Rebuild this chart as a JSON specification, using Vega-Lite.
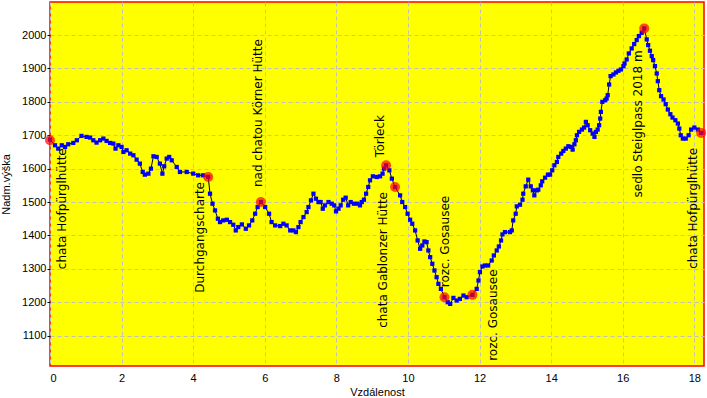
{
  "$schema": "https://vega.github.io/schema/vega-lite/v6.json",
  "width": 654,
  "height": 364,
  "autosize": "none",
  "padding": {"left": 50, "top": 2, "right": 3, "bottom": 32},
  "background": "#ffffff",
  "config": {
    "view": {"fill": "#ffff00", "stroke": "#ff0000", "strokeWidth": 1.5},
    "axis": {
      "labelFont": "Liberation Sans", "labelFontSize": 11, "labelColor": "#000000",
      "titleFont": "Liberation Sans", "titleFontSize": 11, "titleFontWeight": "normal", "titleColor": "#000000",
      "domain": false, "grid": true, "gridColor": "#c0c0c0", "gridDash": [4, 3], "gridWidth": 1,
      "tickColor": "#000000"
    }
  },
  "datasets": {
    "profile": [
      {"km":0.0,"elev":1687},{"km":0.14,"elev":1670},{"km":0.23,"elev":1660},{"km":0.33,"elev":1670},{"km":0.42,"elev":1665},
      {"km":0.51,"elev":1673},{"km":0.65,"elev":1677},{"km":0.75,"elev":1685},{"km":0.88,"elev":1698},{"km":1.02,"elev":1695},
      {"km":1.12,"elev":1693},{"km":1.21,"elev":1685},{"km":1.30,"elev":1678},{"km":1.40,"elev":1685},{"km":1.49,"elev":1690},
      {"km":1.58,"elev":1683},{"km":1.68,"elev":1677},{"km":1.77,"elev":1675},{"km":1.83,"elev":1660},{"km":1.91,"elev":1670},
      {"km":2.00,"elev":1665},{"km":2.05,"elev":1650},{"km":2.14,"elev":1655},{"km":2.24,"elev":1645},{"km":2.33,"elev":1640},
      {"km":2.42,"elev":1627},{"km":2.51,"elev":1615},{"km":2.59,"elev":1590},{"km":2.65,"elev":1582},{"km":2.75,"elev":1585},
      {"km":2.82,"elev":1600},{"km":2.89,"elev":1637},{"km":2.98,"elev":1635},{"km":3.07,"elev":1615},{"km":3.14,"elev":1585},
      {"km":3.19,"elev":1607},{"km":3.26,"elev":1630},{"km":3.33,"elev":1635},{"km":3.40,"elev":1625},{"km":3.54,"elev":1605},
      {"km":3.63,"elev":1590},{"km":3.82,"elev":1590},{"km":4.00,"elev":1585},{"km":4.14,"elev":1580},{"km":4.28,"elev":1580},
      {"km":4.42,"elev":1575},{"km":4.47,"elev":1525},{"km":4.54,"elev":1495},{"km":4.61,"elev":1475},{"km":4.69,"elev":1450},
      {"km":4.75,"elev":1440},{"km":4.84,"elev":1445},{"km":4.94,"elev":1447},{"km":5.03,"elev":1440},{"km":5.12,"elev":1432},
      {"km":5.19,"elev":1415},{"km":5.26,"elev":1425},{"km":5.36,"elev":1433},{"km":5.47,"elev":1420},{"km":5.56,"elev":1430},
      {"km":5.65,"elev":1445},{"km":5.73,"elev":1465},{"km":5.80,"elev":1485},{"km":5.89,"elev":1500},{"km":6.01,"elev":1485},
      {"km":6.12,"elev":1465},{"km":6.19,"elev":1440},{"km":6.29,"elev":1430},{"km":6.43,"elev":1428},{"km":6.52,"elev":1435},
      {"km":6.61,"elev":1430},{"km":6.71,"elev":1415},{"km":6.80,"elev":1415},{"km":6.87,"elev":1410},{"km":6.94,"elev":1425},
      {"km":7.00,"elev":1440},{"km":7.08,"elev":1455},{"km":7.17,"elev":1470},{"km":7.22,"elev":1485},{"km":7.29,"elev":1505},
      {"km":7.36,"elev":1525},{"km":7.43,"elev":1510},{"km":7.50,"elev":1500},{"km":7.56,"elev":1500},{"km":7.62,"elev":1480},
      {"km":7.68,"elev":1490},{"km":7.78,"elev":1500},{"km":7.87,"elev":1495},{"km":7.94,"elev":1490},{"km":7.99,"elev":1472},
      {"km":8.06,"elev":1480},{"km":8.12,"elev":1490},{"km":8.19,"elev":1507},{"km":8.26,"elev":1513},{"km":8.33,"elev":1490},
      {"km":8.40,"elev":1500},{"km":8.49,"elev":1495},{"km":8.59,"elev":1495},{"km":8.66,"elev":1490},{"km":8.71,"elev":1500},
      {"km":8.77,"elev":1507},{"km":8.83,"elev":1525},{"km":8.89,"elev":1545},{"km":8.94,"elev":1565},{"km":9.02,"elev":1577},
      {"km":9.13,"elev":1575},{"km":9.22,"elev":1577},{"km":9.29,"elev":1585},{"km":9.33,"elev":1600},{"km":9.39,"elev":1610},
      {"km":9.48,"elev":1595},{"km":9.55,"elev":1570},{"km":9.64,"elev":1545},{"km":9.78,"elev":1520},{"km":9.84,"elev":1500},
      {"km":9.92,"elev":1485},{"km":9.99,"elev":1465},{"km":10.06,"elev":1447},{"km":10.12,"elev":1435},{"km":10.20,"elev":1415},
      {"km":10.27,"elev":1385},{"km":10.34,"elev":1360},{"km":10.40,"elev":1370},{"km":10.46,"elev":1382},{"km":10.52,"elev":1380},
      {"km":10.57,"elev":1355},{"km":10.62,"elev":1335},{"km":10.68,"elev":1315},{"km":10.74,"elev":1295},{"km":10.80,"elev":1275},
      {"km":10.85,"elev":1255},{"km":10.92,"elev":1240},{"km":11.02,"elev":1215},{"km":11.11,"elev":1200},{"km":11.18,"elev":1195},
      {"km":11.27,"elev":1213},{"km":11.36,"elev":1205},{"km":11.45,"elev":1210},{"km":11.55,"elev":1220},{"km":11.64,"elev":1215},
      {"km":11.80,"elev":1222},{"km":11.92,"elev":1240},{"km":11.97,"elev":1265},{"km":12.01,"elev":1290},{"km":12.08,"elev":1307},
      {"km":12.15,"elev":1310},{"km":12.24,"elev":1310},{"km":12.34,"elev":1325},{"km":12.40,"elev":1340},{"km":12.48,"elev":1355},
      {"km":12.54,"elev":1367},{"km":12.60,"elev":1385},{"km":12.64,"elev":1403},{"km":12.71,"elev":1410},{"km":12.85,"elev":1410},
      {"km":12.90,"elev":1415},{"km":12.94,"elev":1445},{"km":13.01,"elev":1465},{"km":13.04,"elev":1487},{"km":13.13,"elev":1492},
      {"km":13.20,"elev":1507},{"km":13.22,"elev":1525},{"km":13.29,"elev":1547},{"km":13.36,"elev":1567},{"km":13.43,"elev":1547},
      {"km":13.49,"elev":1535},{"km":13.53,"elev":1520},{"km":13.60,"elev":1535},{"km":13.64,"elev":1537},{"km":13.71,"elev":1550},
      {"km":13.75,"elev":1562},{"km":13.83,"elev":1573},{"km":13.91,"elev":1582},{"km":13.97,"elev":1582},{"km":14.03,"elev":1595},
      {"km":14.09,"elev":1610},{"km":14.16,"elev":1620},{"km":14.20,"elev":1635},{"km":14.28,"elev":1645},{"km":14.34,"elev":1653},
      {"km":14.41,"elev":1660},{"km":14.48,"elev":1667},{"km":14.55,"elev":1665},{"km":14.60,"elev":1657},{"km":14.65,"elev":1673},
      {"km":14.69,"elev":1685},{"km":14.72,"elev":1700},{"km":14.78,"elev":1710},{"km":14.86,"elev":1717},{"km":14.92,"elev":1723},
      {"km":14.97,"elev":1740},{"km":15.02,"elev":1730},{"km":15.09,"elev":1715},{"km":15.16,"elev":1705},{"km":15.21,"elev":1695},
      {"km":15.25,"elev":1710},{"km":15.30,"elev":1717},{"km":15.34,"elev":1730},{"km":15.37,"elev":1750},{"km":15.39,"elev":1770},
      {"km":15.43,"elev":1800},{"km":15.51,"elev":1805},{"km":15.55,"elev":1810},{"km":15.58,"elev":1820},{"km":15.62,"elev":1852},
      {"km":15.66,"elev":1877},{"km":15.74,"elev":1882},{"km":15.81,"elev":1888},{"km":15.88,"elev":1893},{"km":15.95,"elev":1897},
      {"km":16.02,"elev":1907},{"km":16.05,"elev":1915},{"km":16.11,"elev":1927},{"km":16.17,"elev":1945},{"km":16.25,"elev":1960},
      {"km":16.32,"elev":1973},{"km":16.39,"elev":1985},{"km":16.45,"elev":1997},{"km":16.53,"elev":2007},{"km":16.60,"elev":2020},
      {"km":16.67,"elev":1987},{"km":16.71,"elev":1970},{"km":16.76,"elev":1953},{"km":16.81,"elev":1937},{"km":16.85,"elev":1925},
      {"km":16.90,"elev":1907},{"km":16.95,"elev":1885},{"km":16.98,"elev":1862},{"km":17.02,"elev":1835},{"km":17.07,"elev":1817},
      {"km":17.14,"elev":1807},{"km":17.20,"elev":1793},{"km":17.26,"elev":1777},{"km":17.33,"elev":1763},{"km":17.39,"elev":1753},
      {"km":17.47,"elev":1745},{"km":17.54,"elev":1735},{"km":17.58,"elev":1720},{"km":17.62,"elev":1700},{"km":17.68,"elev":1690},
      {"km":17.76,"elev":1690},{"km":17.84,"elev":1700},{"km":17.91,"elev":1717},{"km":18.00,"elev":1723},{"km":18.10,"elev":1717},
      {"km":18.19,"elev":1707}
    ],
    "waypoints": [
      {"id":1,"name":"chata Hofpürglhütte","km":0.0,"elev":1685},
      {"id":2,"name":"Durchgangscharte","km":4.42,"elev":1575},
      {"id":3,"name":"nad chatou Körner Hütte","km":5.89,"elev":1500},
      {"id":4,"name":"Törleck","km":9.39,"elev":1610},
      {"id":5,"name":"chata Gablonzer Hütte","km":9.64,"elev":1545},
      {"id":6,"name":"rozc. Gosausee","km":11.02,"elev":1215},
      {"id":7,"name":"rozc. Gosausee","km":11.80,"elev":1222},
      {"id":8,"name":"sedlo Steiglpass 2018 m","km":16.60,"elev":2020},
      {"id":9,"name":"chata Hofpürglhütte","km":18.19,"elev":1707}
    ]
  },
  "encoding": {
    "x": {"field": "km", "type": "quantitative",
      "scale": {"domain": [0, 18.27], "nice": false, "zero": false},
      "axis": {"values": [0,2,4,6,8,10,12,14,16,18], "ticks": false, "labelPadding": 6, "title": "Vzdálenost", "titlePadding": 3}},
    "y": {"field": "elev", "type": "quantitative",
      "scale": {"domain": [1009, 2099], "nice": false, "zero": false},
      "axis": {"values": [1100,1200,1300,1400,1500,1600,1700,1800,1900,2000], "format": "d", "tickSize": 3, "labelPadding": 1, "title": "Nadm.výška", "titlePadding": 10}}
  },
  "layer": [
    {"data": {"name": "profile"}, "mark": {"type": "line", "color": "#000000", "strokeWidth": 1}},
    {"data": {"name": "profile"}, "mark": {"type": "square", "color": "#0000ff", "size": 18, "opacity": 1, "filled": true}},
    {"data": {"name": "waypoints"}, "mark": {"type": "circle", "color": "#ff0000", "size": 100, "opacity": 0.7}},
    {"data": {"name": "waypoints"}, "transform": [{"filter": "datum.id == 1"}],
      "mark": {"type": "text", "angle": 270, "align": "right", "baseline": "bottom", "dx": -8, "dy": 19, "font": "DejaVu Sans", "fontSize": 12, "color": "#000000"},
      "encoding": {"text": {"field": "name"}}},
    {"data": {"name": "waypoints"}, "transform": [{"filter": "datum.id == 2"}],
      "mark": {"type": "text", "angle": 270, "align": "right", "baseline": "bottom", "dx": -5, "dy": -1, "font": "DejaVu Sans", "fontSize": 12, "color": "#000000"},
      "encoding": {"text": {"field": "name"}}},
    {"data": {"name": "waypoints"}, "transform": [{"filter": "datum.id == 3"}],
      "mark": {"type": "text", "angle": 270, "align": "left", "baseline": "bottom", "dx": 15, "dy": 4, "font": "DejaVu Sans", "fontSize": 12, "color": "#000000"},
      "encoding": {"text": {"field": "name"}}},
    {"data": {"name": "waypoints"}, "transform": [{"filter": "datum.id == 4"}],
      "mark": {"type": "text", "angle": 270, "align": "left", "baseline": "bottom", "dx": 8, "dy": 1, "font": "DejaVu Sans", "fontSize": 12, "color": "#000000"},
      "encoding": {"text": {"field": "name"}}},
    {"data": {"name": "waypoints"}, "transform": [{"filter": "datum.id == 5"}],
      "mark": {"type": "text", "angle": 270, "align": "right", "baseline": "bottom", "dx": -5, "dy": -5, "font": "DejaVu Sans", "fontSize": 12, "color": "#000000"},
      "encoding": {"text": {"field": "name"}}},
    {"data": {"name": "waypoints"}, "transform": [{"filter": "datum.id == 6"}],
      "mark": {"type": "text", "angle": 270, "align": "left", "baseline": "bottom", "dx": 10, "dy": 8, "font": "DejaVu Sans", "fontSize": 12, "color": "#000000"},
      "encoding": {"text": {"field": "name"}}},
    {"data": {"name": "waypoints"}, "transform": [{"filter": "datum.id == 7"}],
      "mark": {"type": "text", "angle": 270, "align": "left", "baseline": "bottom", "dx": -66, "dy": 28, "font": "DejaVu Sans", "fontSize": 12, "color": "#000000"},
      "encoding": {"text": {"field": "name"}}},
    {"data": {"name": "waypoints"}, "transform": [{"filter": "datum.id == 8"}],
      "mark": {"type": "text", "angle": 270, "align": "right", "baseline": "bottom", "dx": -22, "dy": 1, "font": "DejaVu Sans", "fontSize": 12, "color": "#000000"},
      "encoding": {"text": {"field": "name"}}},
    {"data": {"name": "waypoints"}, "transform": [{"filter": "datum.id == 9"}],
      "mark": {"type": "text", "angle": 270, "align": "right", "baseline": "bottom", "dx": -15, "dy": -1, "font": "DejaVu Sans", "fontSize": 12, "color": "#000000"},
      "encoding": {"text": {"field": "name"}}}
  ]
}
